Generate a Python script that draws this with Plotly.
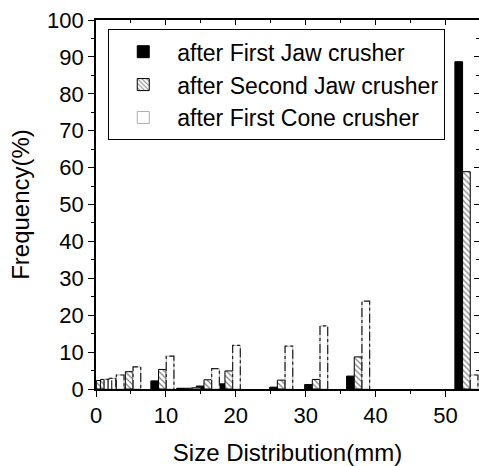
import plotly.graph_objects as go

# Sieve sizes (mm) and frequency (%) per crushing stage
sizes = [0.6, 1.18, 2.36, 4.75, 9.5, 13.2, 16, 19, 26.5, 31.5, 37.5, 53]
jaw1 = [0.5, 0.4, 0.5, 0.5, 2.2, 0.2, 0.8, 1.4, 0.5, 1.2, 3.5, 88.7]
jaw2 = [2.3, 2.6, 2.8, 4.7, 5.3, 0.2, 2.5, 4.9, 2.4, 2.6, 8.7, 58.9]
cone = [2.6, 2.9, 3.8, 6.0, 8.9, 0.3, 5.5, 11.8, 11.6, 17.1, 23.8, 3.8]

names = ["after First Jaw crusher", "after Second Jaw crusher", "after First Cone crusher"]

W = 1.1
FONT = "Liberation Sans, Arial, sans-serif"

fig = go.Figure()
fig.add_trace(go.Bar(
    x=sizes, y=jaw1, name=names[0], width=W, offset=-1.5 * W,
    marker=dict(color="black", line=dict(color="black", width=1)),
))
fig.add_trace(go.Bar(
    x=sizes, y=jaw2, name=names[1], width=W, offset=-0.5 * W,
    marker=dict(color="white", line=dict(color="black", width=1),
                pattern=dict(shape="\\", fgcolor="black", bgcolor="white", size=4, solidity=0.3)),
))
fig.add_trace(go.Bar(
    x=sizes, y=cone, name=names[2], width=W, offset=0.5 * W,
    marker=dict(color="white", line=dict(color="#9a9a9a", width=0.8)),
))

# dash-dot outline of the cone-crusher bars, derived from the data
ox, oy = [], []
for s, v in zip(sizes, cone):
    x0 = s + 0.5 * W
    x1 = s + 1.5 * W
    ox += [x0, x0, x1, x1, None]
    oy += [0, v, v, 0, None]
fig.add_trace(go.Scatter(
    x=ox, y=oy, mode="lines", showlegend=False, hoverinfo="skip",
    line=dict(color="#222", width=1.2, dash="dashdot"),
))
# helper traces for the top/right frame axes
fig.add_trace(go.Scatter(x=[None], y=[None], xaxis="x2", yaxis="y2", showlegend=False))

fig.update_layout(
    width=479, height=466,
    margin=dict(l=96, r=0, t=20, b=77),
    paper_bgcolor="white", plot_bgcolor="white",
    barmode="overlay",
    font=dict(family=FONT, color="black", size=22),
    xaxis=dict(
        range=[0, 54.8], dtick=10, tick0=0,
        showgrid=False, zeroline=False,
        showline=True, linecolor="black", linewidth=1.6,
        ticks="outside", ticklen=6, tickwidth=1.2, tickcolor="black",
        minor=dict(dtick=5, ticks="outside", ticklen=3, tickcolor="black"),
        tickfont=dict(size=22),
        title=dict(text="Size Distribution(mm)", font=dict(size=24), standoff=17),
    ),
    yaxis=dict(
        range=[0, 100], dtick=10, tick0=0,
        showgrid=False, zeroline=False,
        showline=True, linecolor="black", linewidth=1.6,
        ticks="outside", ticklen=6, tickwidth=1.2, tickcolor="black",
        minor=dict(dtick=5, ticks="outside", ticklen=3, tickcolor="black"),
        tickfont=dict(size=22),
        title=dict(text="Frequency(%)", font=dict(size=24), standoff=11),
    ),
    xaxis2=dict(
        overlaying="x", side="top", matches="x", range=[0, 54.8], dtick=10,
        showgrid=False, zeroline=False, showticklabels=False,
        showline=True, linecolor="black", linewidth=1.6,
        ticks="inside", ticklen=5, tickcolor="black",
        minor=dict(dtick=5, ticks="inside", ticklen=3, tickcolor="black"),
    ),
    yaxis2=dict(
        overlaying="y", side="right", range=[0, 100], dtick=10,
        showgrid=False, zeroline=False, showticklabels=False,
        showline=True, linecolor="black", linewidth=1.6,
        ticks="inside", ticklen=5, tickcolor="black",
        minor=dict(dtick=5, ticks="inside", ticklen=3, tickcolor="black"),
    ),
    legend=dict(
        x=0.032, y=0.975, xanchor="left", yanchor="top",
        bordercolor="black", borderwidth=1, bgcolor="white",
        font=dict(size=23, family=FONT),
        itemwidth=58, tracegroupgap=0,
    ),
    showlegend=True,
)

fig.write_html("out.html")
